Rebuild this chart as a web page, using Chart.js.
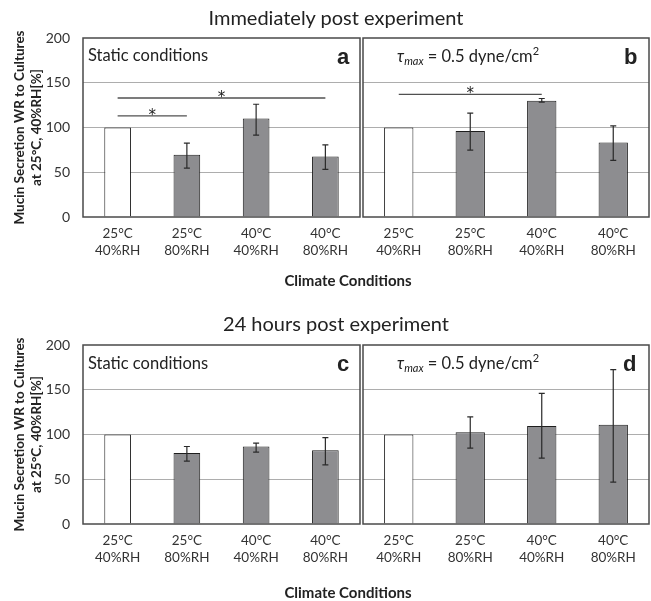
<!DOCTYPE html>
<html>
<head>
<meta charset="utf-8">
<script src="https://cdn.jsdelivr.net/npm/chart.js@4.4.1/dist/chart.umd.min.js"></script>
<style>
  body { margin: 0; background: #fff; }
  #wrap { position: relative; width: 651px; height: 601px; overflow: hidden; font-family: Lato, sans-serif; color: #222; }
  #wrap canvas { position: absolute; left: 0; top: 0; }
  .t { position: absolute; white-space: nowrap; line-height: 1; }
  .c { transform: translate(-50%, -50%); }
  .l { transform: translateY(-50%); }
  .head { font-size: 20px; }
  .xt { font-size: 15px; font-weight: bold; }
  .cond { font-size: 16.5px; }
  .tag { font-family: "Liberation Sans", Arial, sans-serif; font-weight: bold; font-size: 22px; }
  sub { font-size: 11px; vertical-align: -3px; }
  sup { font-size: 11px; vertical-align: 7px; }
</style>
</head>
<body>
<div id="wrap">
  <canvas id="pa" width="651" height="601"></canvas>
  <canvas id="pb" width="651" height="601"></canvas>
  <canvas id="pc" width="651" height="601"></canvas>
  <canvas id="pd" width="651" height="601"></canvas>

  <div class="t c head" style="left:336px;top:17px">Immediately post experiment</div>
  <div class="t c head" style="left:336px;top:323px">24 hours post experiment</div>
  <div class="t c xt" style="left:348px;top:280px">Climate Conditions</div>
  <div class="t c xt" style="left:348px;top:592px">Climate Conditions</div>

  <div class="t l cond" style="left:88px;top:55px">Static conditions</div>
  <div class="t l cond" style="left:88px;top:363px">Static conditions</div>
  <div class="t l cond" style="left:397px;top:55px"><i>τ<sub>max</sub></i> = 0.5 dyne/cm<sup>2</sup></div>
  <div class="t l cond" style="left:397px;top:362px"><i>τ<sub>max</sub></i> = 0.5 dyne/cm<sup>2</sup></div>

  <div class="t l tag" style="left:337px;top:57px">a</div>
  <div class="t l tag" style="left:624px;top:57px">b</div>
  <div class="t l tag" style="left:337px;top:364px">c</div>
  <div class="t l tag" style="left:623px;top:364px">d</div>
</div>

<script>
/* Chart data */
const categories = [['25°C', '40%RH'], ['25°C', '80%RH'], ['40°C', '40%RH'], ['40°C', '80%RH']];
const yTicks = [0, 50, 100, 150, 200];
const yTitle = ['Mucin Secretion WR to Cultures', 'at 25°C, 40%RH[%]'];

// a: immediately post, static
const meanA = [100, 69.5, 110, 67.7];
const lowA  = [null, 54.7, 91.5, 53.2];
const highA = [null, 82.5, 126, 80.6];
const sigA  = [[0, 1, 113], [0, 3, 133]];

// b: immediately post, shear
const meanB = [100, 96, 130, 83.3];
const lowB  = [null, 74.7, 128.3, 63.2];
const highB = [null, 116, 132.4, 101.8];
const sigB  = [[0, 2, 137]];

// c: 24 h post, static
const meanC = [100, 79.2, 86.6, 82.5];
const lowC  = [null, 70.3, 80.3, 66.1];
const highC = [null, 86.6, 90.3, 96.6];

// d: 24 h post, shear
const meanD = [100, 102.6, 109.6, 110.8];
const lowD  = [null, 84.8, 73.6, 46.8];
const highD = [null, 119.7, 146, 172.5];

const barFill = ['#ffffff', '#8d8d90', '#8d8d90', '#8d8d90'];

/* Build one panel */
function makePanel(id, p) {
  const decor = {
    id: 'decor',
    afterDatasetsDraw(chart) {
      const { ctx, chartArea: a, scales: { y } } = chart;
      const bars = chart.getDatasetMeta(0).data;
      ctx.save();
      // error bars
      ctx.strokeStyle = '#2a2a2a';
      ctx.lineWidth = 1.2;
      p.low.forEach((lo, i) => {
        if (lo == null) return;
        const x = bars[i].x, y1 = y.getPixelForValue(lo), y2 = y.getPixelForValue(p.high[i]);
        ctx.beginPath();
        ctx.moveTo(x, y1); ctx.lineTo(x, y2);
        ctx.moveTo(x - 3, y1); ctx.lineTo(x + 3, y1);
        ctx.moveTo(x - 3, y2); ctx.lineTo(x + 3, y2);
        ctx.stroke();
      });
      // significance lines
      (p.sig || []).forEach(([i, j, v]) => {
        const yy = y.getPixelForValue(v);
        ctx.strokeStyle = '#505050';
        ctx.lineWidth = 1.4;
        ctx.beginPath();
        ctx.moveTo(bars[i].x, yy); ctx.lineTo(bars[j].x, yy);
        ctx.stroke();
        ctx.fillStyle = '#222';
        ctx.font = '15px "DejaVu Sans"';
        ctx.textAlign = 'center';
        ctx.textBaseline = 'alphabetic';
        ctx.fillText('*', (bars[i].x + bars[j].x) / 2, yy + 4);
      });
      // panel frame
      ctx.strokeStyle = '#4a4a4a';
      ctx.lineWidth = 1.5;
      ctx.strokeRect(a.left, a.top, a.width, a.height);
      ctx.restore();
    }
  };

  new Chart(document.getElementById(id), {
    type: 'bar',
    data: {
      labels: categories,
      datasets: [{
        data: p.values,
        backgroundColor: barFill,
        borderColor: '#1e1e1e',
        borderWidth: 1,
        barPercentage: p.barPct,
        categoryPercentage: 1
      }]
    },
    options: {
      responsive: false,
      animation: false,
      events: [],
      layout: {
        autoPadding: false,
        padding: { left: p.padLeft, right: 651 - p.right, top: p.top, bottom: 601 - p.bottom - 50 }
      },
      plugins: { legend: { display: false }, tooltip: { enabled: false } },
      scales: {
        x: {
          grid: { display: false, drawTicks: false },
          border: { display: false },
          ticks: { color: '#333', font: { family: 'Lato', size: 13.5 }, padding: 9, maxRotation: 0, autoSkip: false },
          afterFit(s) { s.height = 50; }
        },
        y: {
          min: 0, max: 200,
          afterBuildTicks(s) { s.ticks = yTicks.map(v => ({ value: v })); },
          grid: {
            drawTicks: false,
            lineWidth: 1,
            color: c => (c.tick && c.tick.value > 0 && c.tick.value < 200) ? '#adadad' : 'rgba(0,0,0,0)'
          },
          border: { display: false },
          ticks: { display: p.showY, color: '#333', font: { family: 'Lato', size: 14 }, padding: 13 },
          title: {
            display: p.showY,
            text: yTitle,
            color: '#222',
            font: { family: 'Lato', size: 13.5, weight: 'bold', lineHeight: 1.26 },
            padding: { top: 11.5, bottom: 0 }
          },
          afterFit(s) { s.width = p.showY ? 83 : 0; }
        }
      }
    },
    plugins: [decor]
  });
}

makePanel('pa', { values: meanA, low: lowA, high: highA, sig: sigA, showY: true,  padLeft: 0,   right: 360, top: 38,  bottom: 217, barPct: 0.385 });
makePanel('pb', { values: meanB, low: lowB, high: highB, sig: sigB, showY: false, padLeft: 363, right: 649, top: 38,  bottom: 217, barPct: 0.41 });
makePanel('pc', { values: meanC, low: lowC, high: highC, showY: true,  padLeft: 0,   right: 360, top: 345, bottom: 524, barPct: 0.385 });
makePanel('pd', { values: meanD, low: lowD, high: highD, showY: false, padLeft: 363, right: 649, top: 345, bottom: 524, barPct: 0.41 });
</script>
</body>
</html>
